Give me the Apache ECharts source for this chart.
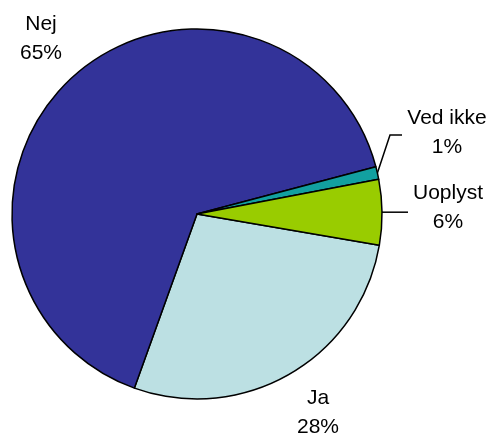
<!DOCTYPE html>
<html>
<head>
<meta charset="utf-8">
<script src="https://cdn.jsdelivr.net/npm/echarts@6/dist/echarts.min.js"></script>
<style>
  html, body { margin: 0; padding: 0; background: #fff; }
  #main { width: 489px; height: 438px; }
</style>
</head>
<body>
<div id="main"></div>
<script>
// answers, in drawing order (clockwise from the right side)
const categories = ['Ja', 'Nej', 'Ved ikke', 'Uoplyst']
const shares = [27.8, 65.4, 1.1, 5.7]
const colors = ['#BCE0E3', '#333399', '#12A0A0', '#99CC00']

// where each label sits (centre of the two-line text)
const labelSpots = {
  'Ja': [318, 413],
  'Nej': [41, 39],
  'Ved ikke': [447, 133],
  'Uoplyst': [448, 208]
}

const chartDom = document.getElementById('main')
const myChart = echarts.init(chartDom)

const option = {
  animation: false,
  series: [
    {
      type: 'pie',
      center: [197, 214],
      radius: 185,
      startAngle: 350.3,
      clockwise: true,
      avoidLabelOverlap: false,
      percentPrecision: 0,
      itemStyle: {
        borderColor: '#000',
        borderWidth: 1.5
      },
      emphasis: { disabled: true },
      label: {
        position: 'outside',
        formatter: '{b}\n{d}%',
        color: '#000',
        fontFamily: 'Liberation Sans, Arial, sans-serif',
        fontSize: 21,
        lineHeight: 29
      },
      labelLine: {
        show: true,
        lineStyle: { color: '#000', width: 1.5 }
      },
      labelLayout: function (params) {
        const name = categories[params.dataIndex]
        const spot = labelSpots[name]
        const res = { x: spot[0], y: spot[1], align: 'center', verticalAlign: 'middle' }
        const start = params.labelLinePoints ? params.labelLinePoints[0] : null
        if (start && name === 'Ved ikke') {
          res.labelLinePoints = [start, [390, 135], [402, 135]]
        } else if (start && name === 'Uoplyst') {
          res.labelLinePoints = [start, [395, start[1]], [408, start[1]]]
        }
        return res
      },
      data: categories.map((name, i) => ({
        name: name,
        value: shares[i],
        itemStyle: { color: colors[i] },
        labelLine: { show: name === 'Ved ikke' || name === 'Uoplyst' }
      }))
    }
  ]
}

myChart.setOption(option)
</script>
</body>
</html>
